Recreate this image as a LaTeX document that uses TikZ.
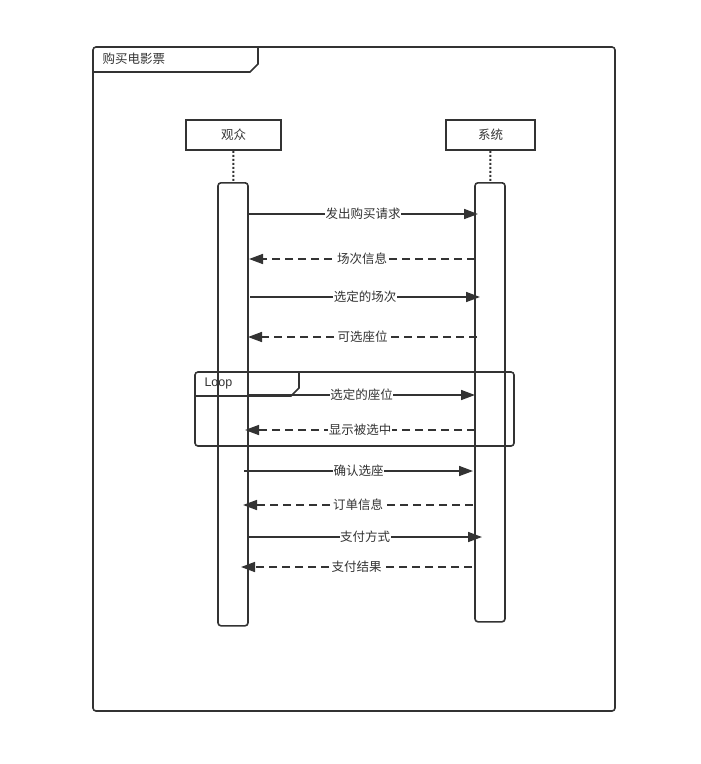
\documentclass[tikz,border=0pt]{standalone}
\usepackage{fontspec}
\setmainfont{Liberation Sans}
\newfontfamily\cjk{Noto Sans CJK SC}
\usetikzlibrary{arrows.meta}
\definecolor{ink}{HTML}{333333}
\tikzset{actor/.style={draw=ink,line width=1.6pt,minimum width=95pt,minimum height=30pt,font=\cjk\fontsize{12.5}{14}\selectfont,text=ink},
         bar/.style={draw=ink,line width=1.6pt,rounded corners=3pt,minimum width=30pt,anchor=north},
         msg/.style={draw=ink,line width=1.6pt,-{Triangle[length=14pt,width=10pt]}},
         reply/.style={msg,dash pattern=on 8pt off 5pt},
         lbl/.style={fill=white,inner sep=0.5pt,text=ink,font=\cjk\fontsize{12.5}{14}\selectfont}}

\begin{document}
\begin{tikzpicture}[x=1pt,y=-1pt]
                  \useasboundingbox (0,0) rectangle (701,764);
                  \draw[ink,line width=1.6pt,rounded corners=3pt] (93,47) rectangle (615,711);
                  \draw[ink,line width=1.6pt] (93,72) -- (250,72) -- (258,64) -- (258,47);
                  \node[anchor=west,lbl,fill=none] (title) at (102,59) {购买电影票};
                  \node[actor] (viewer) at (233.5,135) {观众};
                  \node[actor,minimum width=89pt] (system) at (490.5,135) {系统};
                  \node[bar,minimum height=443pt] (bar1) at (233,182) {};
                  \node[bar,minimum height=439pt] (bar2) at (490,182) {};
                  \draw[ink,line width=2pt,dash pattern=on 2pt off 2pt] (viewer) -- (bar1);
                  \draw[ink,line width=2pt,dash pattern=on 2pt off 2pt] (system) -- (bar2);
                  % loop fragment
                  \draw[ink,line width=1.6pt,rounded corners=3pt] (195,372) rectangle (514,446);
                  \draw[ink,line width=1.6pt] (195,396) -- (291,396) -- (299,388) -- (299,372);
                  \node[anchor=west,text=ink,font=\fontsize{12.5}{14}\selectfont] (loop) at (201,383) {Loop};
                  % messages
                  \coordinate (m1a) at (248,214); \coordinate (m1b) at (478,214);
                  \coordinate (m2a) at (475,259); \coordinate (m2b) at (249,259);
                  \coordinate (m3a) at (250,297); \coordinate (m3b) at (480,297);
                  \coordinate (m4a) at (477,337); \coordinate (m4b) at (248,337);
                  \coordinate (m5a) at (248,395); \coordinate (m5b) at (475,395);
                  \coordinate (m6a) at (475,430); \coordinate (m6b) at (245,430);
                  \coordinate (m7a) at (244,471); \coordinate (m7b) at (473,471);
                  \coordinate (m8a) at (473,505); \coordinate (m8b) at (243,505);
                  \coordinate (m9a) at (248,537); \coordinate (m9b) at (482,537);
                  \coordinate (m10a) at (472,567); \coordinate (m10b) at (241,567);
                  \draw[msg] (m1a) -- node[lbl]{发出购买请求} (m1b);
                  \draw[reply] (m2a) -- node[lbl]{场次信息} (m2b);
                  \draw[msg] (m3a) -- node[lbl]{选定的场次} (m3b);
                  \draw[reply] (m4a) -- node[lbl]{可选座位} (m4b);
                  \draw[msg] (m5a) -- node[lbl]{选定的座位} (m5b);
                  \draw[reply] (m6a) -- node[lbl]{显示被选中} (m6b);
                  \draw[msg] (m7a) -- node[lbl]{确认选座} (m7b);
                  \draw[reply] (m8a) -- node[lbl]{订单信息} (m8b);
                  \draw[msg] (m9a) -- node[lbl]{支付方式} (m9b);
                  \draw[reply] (m10a) -- node[lbl]{支付结果} (m10b);
              \end{tikzpicture}
\end{document}
